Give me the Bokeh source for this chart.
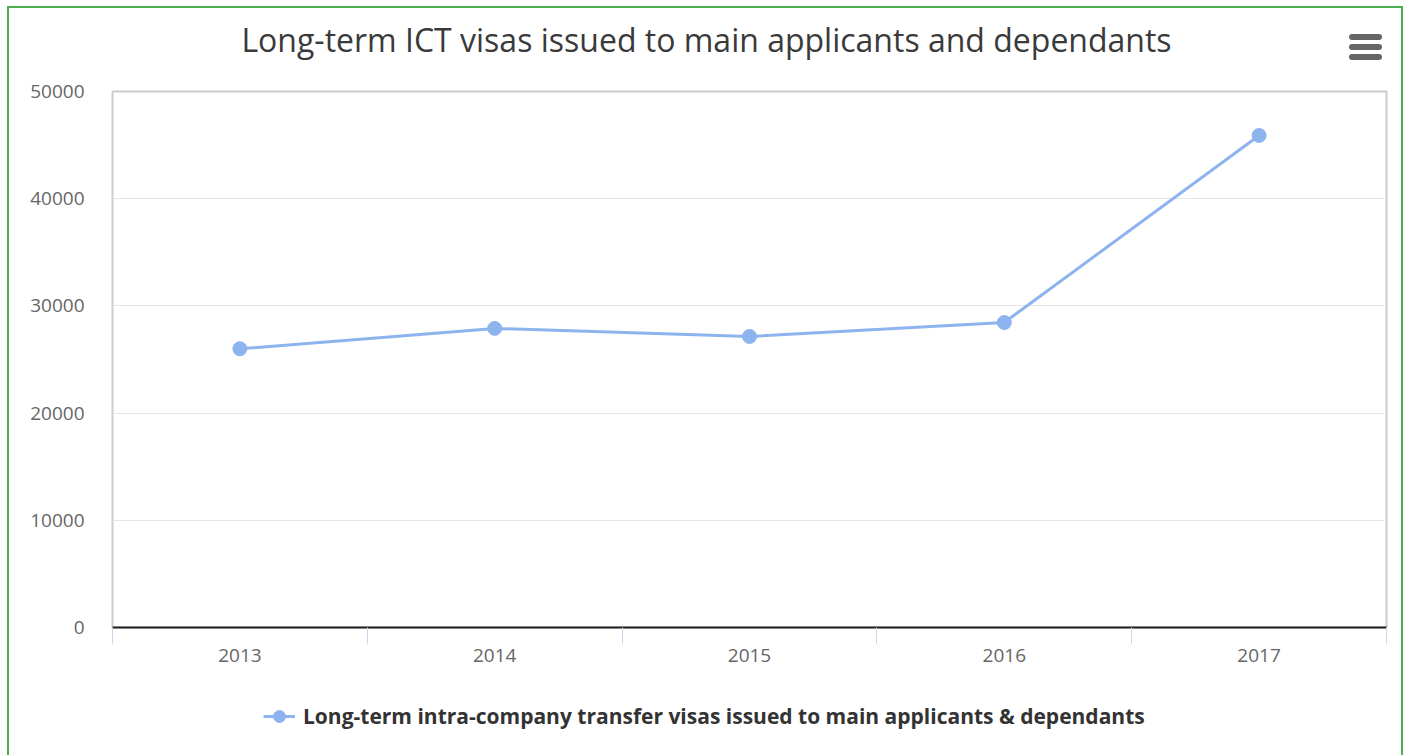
from bokeh.plotting import figure
from bokeh.layouts import column
from bokeh.models import (Range1d, FixedTicker, ColumnDataSource, Legend, LegendItem,
                          InlineStyleSheet, Label)
from bokeh.embed import file_html
from bokeh.resources import INLINE

# ---- data ----
years = ["2013", "2014", "2015", "2016", "2017"]
visas = [26000, 27900, 27150, 28450, 45900]
series_name = "Long-term intra-company transfer visas issued to main applicants & dependants"
title_text = "Long-term ICT visas issued to main applicants and dependants"
y_ticks = [0, 10000, 20000, 30000, 40000, 50000]

FONT = "Open Sans"
GREEN = "#4cae50"
LINE_COLOR = "#8db4ee"
idx = list(range(len(years)))
src = ColumnDataSource(dict(x=idx, y=visas, year=years))

W = 1403
FRAME_LEFT = 112
HEAD_H, MAIN_H, FOOT_H = 70, 615, 70


def bare(fig):
    fig.xaxis.visible = False
    fig.yaxis.visible = False
    fig.xgrid.visible = False
    fig.ygrid.visible = False
    fig.outline_line_color = None
    fig.background_fill_color = None
    fig.border_fill_color = None
    return fig


# ---- header: title + menu icon ----
head = bare(figure(width=W, height=HEAD_H, output_backend="svg", toolbar_location=None,
                   x_range=Range1d(0, 1), y_range=Range1d(0, 1), title=None,
                   min_border=0, x_axis_location=None, y_axis_location=None))
head.add_layout(Label(x=706 - FRAME_LEFT, y=31, x_units="screen", y_units="screen",
                      text=title_text, text_align="center", text_baseline="alphabetic",
                      text_font=FONT, text_font_size="32px", text_color="#3a3a3a"))
head.stylesheets = [InlineStyleSheet(css="""
:host::after {
  content: ""; position: absolute; left: 1349px; top: 34px; width: 33px; height: 6px;
  background: #666666; border-radius: 3px;
  box-shadow: 0 10px 0 #666666, 0 20px 0 #666666;
  pointer-events: none;
}
""")]

# ---- main chart ----
p = figure(width=W, height=MAIN_H, output_backend="svg", toolbar_location=None, title=None,
           x_range=Range1d(-0.5, len(years) - 0.5), y_range=Range1d(0, 50000),
           min_border_left=FRAME_LEFT, min_border_right=17, min_border_top=21, min_border_bottom=58)
p.border_fill_color = None
p.background_fill_color = "white"
p.outline_line_color = "#cccccc"
p.outline_line_width = 2

p.xgrid.grid_line_color = None
p.ygrid.grid_line_color = "#e6e6e6"
p.ygrid.grid_line_width = 1

p.yaxis.ticker = FixedTicker(ticks=y_ticks)
p.yaxis.axis_line_color = None
p.yaxis.major_tick_line_color = None
p.yaxis.minor_tick_line_color = None
p.yaxis.major_tick_out = 0
p.yaxis.major_label_standoff = 28
p.yaxis.major_label_text_font = FONT
p.yaxis.major_label_text_font_size = "19px"
p.yaxis.major_label_text_color = "#666666"

p.xaxis.ticker = FixedTicker(ticks=idx, minor_ticks=[i - 0.5 for i in range(len(years) + 1)])
p.xaxis.major_label_overrides = {i: y for i, y in zip(idx, years)}
p.xaxis.axis_line_color = "#222222"
p.xaxis.axis_line_width = 2
p.xaxis.major_tick_line_color = None
p.xaxis.major_tick_out = 0
p.xaxis.major_tick_in = 0
p.xaxis.minor_tick_line_color = "#ccd6eb"
p.xaxis.minor_tick_out = 16
p.xaxis.minor_tick_in = 0
p.xaxis.minor_tick_line_width = 1
p.xaxis.major_label_standoff = 5
p.xaxis.major_label_text_font = FONT
p.xaxis.major_label_text_font_size = "19px"
p.xaxis.major_label_text_color = "#666666"

p.line("x", "y", source=src, line_color=LINE_COLOR, line_width=3)
p.scatter("x", "y", source=src, size=14, fill_color=LINE_COLOR, line_color=LINE_COLOR)

# ---- footer: legend (series drawn off-view so only the legend entry shows) ----
foot = bare(figure(width=W, height=FOOT_H, output_backend="svg", toolbar_location=None,
                   x_range=Range1d(100, 101), y_range=Range1d(-10, -9), title=None,
                   min_border_left=0, min_border_right=0, min_border_top=0, min_border_bottom=12,
                   x_axis_location=None, y_axis_location=None))
lg_line = foot.line("x", "y", source=src, line_color=LINE_COLOR, line_width=3)
lg_dot = foot.scatter("x", "y", source=src, size=14, fill_color=LINE_COLOR, line_color=LINE_COLOR)
legend = Legend(items=[LegendItem(label=series_name, renderers=[lg_line, lg_dot])],
                location=(263 - FRAME_LEFT, 12), orientation="horizontal",
                label_text_font=FONT, label_text_font_size="21px",
                label_text_font_style="bold", label_text_color="#333333",
                glyph_width=32, glyph_height=30, border_line_color=None,
                background_fill_alpha=0, margin=0, padding=2, label_standoff=8)
foot.add_layout(legend, "center")

layout = column(head, p, foot, spacing=0)
layout.styles = {
    "background-color": "white",
    "box-shadow": (f"inset 7px 0 0 0 white, inset 0 6px 0 0 white, "
                   f"inset 9px 0 0 0 {GREEN}, inset 0 8px 0 0 {GREEN}, inset -2px 0 0 0 {GREEN}"),
}

open("out.html", "w").write(file_html(layout, INLINE))
